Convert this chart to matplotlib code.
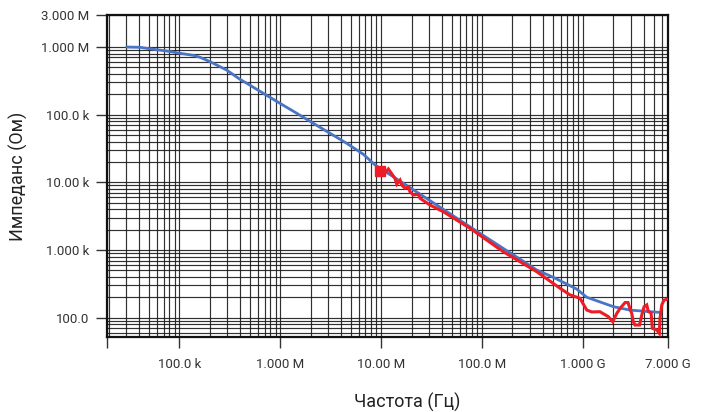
import numpy as np
import matplotlib
matplotlib.use("Agg")
import matplotlib.pyplot as plt
from matplotlib import font_manager
from matplotlib.ticker import FixedLocator, FixedFormatter, NullFormatter

# ---------------- data ----------------
blue_freq = [30.2e3, 40.9e3, 55.5e3, 75.2e3, 101.9e3, 138e3, 161e3, 202e3, 295e3, 400e3,
             467e3, 681e3, 998e3, 1.46e6, 2.13e6, 3.12e6, 4.56e6, 6.67e6, 8.71e6, 16.6e6,
             35.6e6, 75.5e6, 162e6, 237e6, 348e6, 508e6, 865e6, 1.09e9, 2.0e9, 2.92e9, 5.78e9]
blue_imp = [1.0e6, 0.99e6, 925e3, 873e3, 807e3, 753e3, 705e3, 607e3, 457e3, 333e3,
            291e3, 207e3, 147e3, 105e3, 74.6e3, 53.1e3, 37.8e3, 26.0e3, 18.1e3, 9.7e3,
            4.63e3, 2.22e3, 1.06e3, 736, 508, 396, 266, 201, 146, 130, 120]

red_freq = [9.86e6, 11.2e6, 11.8e6, 13.7e6, 14.3e6, 15.4e6, 16.0e6, 17.3e6, 18.6e6, 19.3e6,
            20.8e6, 23.4e6, 24.3e6, 30.5e6, 41.3e6, 56.1e6, 76.0e6, 162e6, 348e6, 592e6,
            743e6, 933e6, 1.09e9, 1.22e9, 1.47e9, 1.78e9, 1.97e9, 2.16e9, 2.33e9, 2.61e9,
            2.79e9, 2.92e9, 3.04e9, 3.15e9, 3.27e9, 3.63e9, 3.82e9, 4.03e9, 4.28e9, 4.44e9,
            4.72e9, 4.86e9, 5.37e9, 5.70e9, 5.79e9, 6.03e9, 6.35e9, 6.75e9]
red_imp = [14.6e3, 14.4e3, 15.8e3, 11.5e3, 9.38e3, 10.8e3, 9.14e3, 8.17e3, 8.63e3, 7.28e3,
           6.52e3, 6.67e3, 5.82e3, 4.63e3, 3.69e3, 2.78e3, 2.10e3, 948, 480, 273,
           218, 194, 130, 122, 123, 104, 87.5, 116, 138, 168,
           168, 135, 116, 87.5, 78.2, 78.2, 110, 146, 155, 123,
           119, 70.0, 66.1, 59.0, 98.4, 155, 183, 187]

x_ticks = [19.4e3, 1e5, 1e6, 1e7, 1e8, 1e9, 7e9]
x_labels = ["", "100.0 k", "1.000 M", "10.00 M", "100.0 M", "1.000 G", "7.000 G"]
y_ticks = [1e2, 1e3, 1e4, 1e5, 1e6, 3e6]
y_labels = ["100.0", "1.000 k", "10.00 k", "100.0 k", "1.000 M", "3.000 M"]
x_title = "Частота (Гц)"
y_title = "Импеданс (Ом)"

# ---------------- fonts ----------------
names = {f.name for f in font_manager.fontManager.ttflist}
if "Liberation Sans Narrow" in names:
    tick_font, tick_size = "Liberation Sans Narrow", 10.5
else:
    tick_font, tick_size = "Roboto", 9.5
label_font = "Roboto" if "Roboto" in names else "DejaVu Sans"

fig = plt.figure(figsize=(7.07, 4.12), dpi=100)
ax = fig.add_axes([0.1518, 0.1813, 0.7935, 0.783])
ax.set_xscale("log")
ax.set_yscale("log")
ax.set_xlim(19.4e3, 7e9)
ax.set_ylim(51.5, 3e6)

# grid
xminor = [k * 10.0 ** n for n in range(4, 10) for k in range(2, 10)
          if 19.4e3 < k * 10.0 ** n < 7e9]
yminor = [k * 10.0 ** n for n in range(1, 6) for k in range(2, 10)
          if 51.5 < k * 10.0 ** n < 1e6]
ax.xaxis.set_major_locator(FixedLocator(x_ticks))
ax.xaxis.set_major_formatter(FixedFormatter(x_labels))
ax.xaxis.set_minor_locator(FixedLocator(xminor))
ax.xaxis.set_minor_formatter(NullFormatter())
ax.yaxis.set_major_locator(FixedLocator(y_ticks))
ax.yaxis.set_major_formatter(FixedFormatter(y_labels))
ax.yaxis.set_minor_locator(FixedLocator(yminor))
ax.yaxis.set_minor_formatter(NullFormatter())
ax.grid(True, which="both", color="#1a1a1a", linewidth=0.85, alpha=0.9)
ax.set_axisbelow(True)

ax.tick_params(which="major", direction="out", length=8, width=1, color="#333333",
               labelsize=tick_size, labelcolor="#333333")
ax.tick_params(axis="x", which="major", pad=7)
ax.tick_params(axis="y", which="major", pad=5)
ax.tick_params(which="minor", length=0)
for lab in ax.get_xticklabels() + ax.get_yticklabels():
    lab.set_fontfamily(tick_font)

for s in ax.spines.values():
    s.set_linewidth(1.6)
    s.set_color("#111111")

ax.plot(blue_freq, blue_imp, color="#4a74c4", linewidth=2.0, zorder=3, solid_capstyle="round")
ax.plot(red_freq, red_imp, color="#ee1c24", linewidth=2.2, zorder=4, solid_joinstyle="miter")
ax.plot(red_freq[:1], red_imp[:1], marker="s", markersize=7.5, color="#ee1c24",
        linestyle="none", zorder=5)

ax.set_xlabel(x_title, fontsize=13, family=label_font, color="#222222")
ax.set_ylabel(y_title, fontsize=13, family=label_font, color="#222222")
ax.xaxis.set_label_coords(0.535, -0.172)
ax.yaxis.set_label_coords(-0.141, 0.5)

fig.savefig("out.png", dpi=100)
